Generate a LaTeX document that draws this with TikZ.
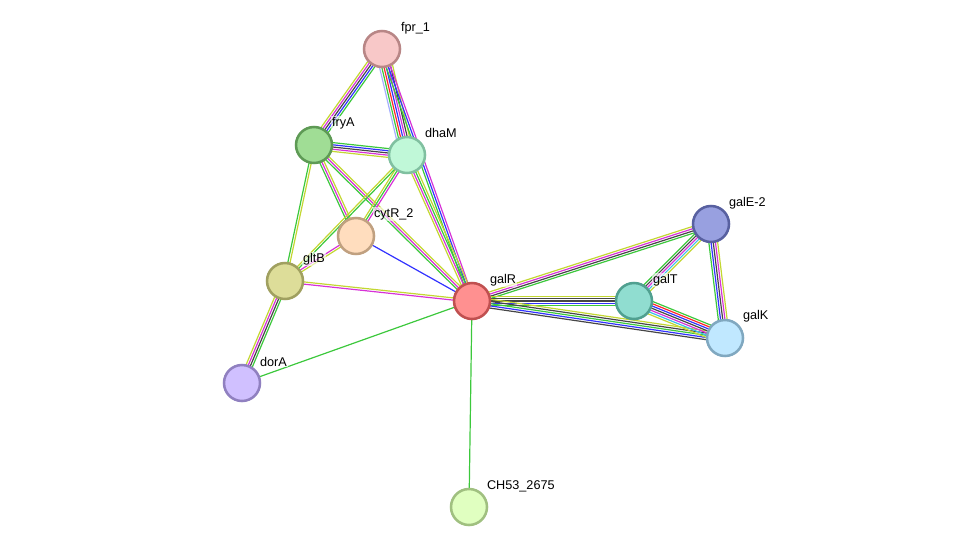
\documentclass[tikz,border=0pt]{standalone}
\usepackage{fontspec}
\setmainfont{Liberation Sans}
\usetikzlibrary{calc,backgrounds}
\definecolor{eg}{RGB}{60,200,60}
\definecolor{eb}{RGB}{50,50,255}
\definecolor{em}{RGB}{215,50,215}
\definecolor{ek}{RGB}{70,70,70}
\definecolor{ey}{RGB}{195,215,50}
\definecolor{ec}{RGB}{60,190,230}
\definecolor{er}{RGB}{255,40,40}
\definecolor{el}{RGB}{165,175,255}
\definecolor{fprF}{RGB}{248,200,200}\definecolor{fprD}{RGB}{184,134,134}
\definecolor{fryF}{RGB}{160,221,149}\definecolor{fryD}{RGB}{94,154,85}
\definecolor{dhaF}{RGB}{192,248,216}\definecolor{dhaD}{RGB}{128,192,160}
\definecolor{cytF}{RGB}{255,221,190}\definecolor{cytD}{RGB}{192,160,128}
\definecolor{gltF}{RGB}{221,221,153}\definecolor{gltD}{RGB}{160,160,96}
\definecolor{garF}{RGB}{255,144,144}\definecolor{garD}{RGB}{192,80,80}
\definecolor{gaeF}{RGB}{152,160,224}\definecolor{gaeD}{RGB}{88,96,160}
\definecolor{gatF}{RGB}{144,221,208}\definecolor{gatD}{RGB}{80,160,144}
\definecolor{gakF}{RGB}{192,232,255}\definecolor{gakD}{RGB}{128,168,192}
\definecolor{dorF}{RGB}{208,192,255}\definecolor{dorD}{RGB}{144,128,192}
\definecolor{chF}{RGB}{224,255,192}\definecolor{chD}{RGB}{160,192,128}
\tikzset{
  prot/.style n args={2}{circle,draw=#2,fill=#1,line width=1.9pt,minimum size=27pt,inner sep=0pt},
  lab/.style={anchor=west,font=\fontsize{9.5}{11}\selectfont,inner sep=0.6pt,fill=white,fill opacity=0.6,text opacity=1},
  ln/.style={line width=0.9pt}
}
\newcommand\sedge[4]{%
  \foreach \cc [count=\ii] in {#4}{%
    \pgfmathsetmacro\eoff{(\ii-(#3+1)/2)*1.65}%
    \draw[ln,\cc] ($(#1.center)!\eoff pt!90:(#2.center)$) -- ($(#2.center)!\eoff pt!-90:(#1.center)$);
  }}
\begin{document}
\begin{tikzpicture}[x=0.75pt,y=-0.75pt]
\useasboundingbox (0,0) rectangle (976,553);
\node[prot={fprF}{fprD}] (fpr) at (382,49) {};
\node[prot={fryF}{fryD}] (fryA) at (314,145) {};
\node[prot={dhaF}{dhaD}] (dhaM) at (407,155) {};
\node[prot={cytF}{cytD}] (cytR) at (356,236) {};
\node[prot={gltF}{gltD}] (gltB) at (285,281) {};
\node[prot={garF}{garD}] (galR) at (472,301) {};
\node[prot={gaeF}{gaeD}] (galE) at (711,224) {};
\node[prot={gatF}{gatD}] (galT) at (634,301) {};
\node[prot={gakF}{gakD}] (galK) at (725,338) {};
\node[prot={dorF}{dorD}] (dorA) at (242,383) {};
\node[prot={chF}{chD}] (ch53) at (469,507) {};
\node[lab] (lfpr) at ($(fpr)+(18,-21)$) {fpr\_1};
\node[lab] (lfryA) at ($(fryA)+(17,-22)$) {fryA};
\node[lab] (ldhaM) at ($(dhaM)+(17,-22)$) {dhaM};
\node[lab] (lcytR) at ($(cytR)+(17,-22)$) {cytR\_2};
\node[lab] (lgltB) at ($(gltB)+(17,-22)$) {gltB};
\node[lab] (lgalR) at ($(galR)+(17,-21)$) {galR};
\node[lab] (lgalE) at ($(galE)+(17,-21)$) {galE-2};
\node[lab] (lgalT) at ($(galT)+(18,-21)$) {galT};
\node[lab] (lgalK) at ($(galK)+(17,-22)$) {galK};
\node[lab] (ldorA) at ($(dorA)+(17,-21)$) {dorA};
\node[lab] (lch53) at ($(ch53)+(17,-21)$) {CH53\_2675};
\begin{scope}[on background layer]
\sedge{fpr}{fryA}{5}{ey,em,ek,eb,eg}
\sedge{fpr}{dhaM}{7}{el,eg,er,eb,em,ek,ey}
\sedge{fpr}{galR}{3}{eg,eb,em}
\sedge{fryA}{dhaM}{5}{ey,em,ek,eb,eg}
\sedge{fryA}{cytR}{3}{eg,em,ey}
\sedge{fryA}{galR}{3}{eg,em,ey}
\sedge{fryA}{gltB}{2}{eg,ey}
\sedge{dhaM}{cytR}{3}{ey,eg,em}
\sedge{dhaM}{gltB}{2}{ey,eg}
\sedge{dhaM}{galR}{4}{ey,em,eg,ey}
\sedge{cytR}{gltB}{2}{em,ey}
\sedge{cytR}{galR}{1}{eb}
\sedge{gltB}{galR}{2}{em,ey}
\sedge{gltB}{dorA}{4}{ey,em,ek,eg}
\sedge{dorA}{galR}{1}{eg}
\sedge{galR}{ch53}{1}{eg}
\sedge{galR}{galE}{4}{eg,ek,em,ey}
\sedge{galR}{galT}{5}{eg,eb,ek,ek,ey}
\sedge{galR}{galK}{5}{ek,eb,eg,ek,ey}
\sedge{galE}{galT}{5}{eg,ek,em,ec,ey}
\sedge{galE}{galK}{5}{eg,eb,ek,em,ey}
\sedge{galT}{galK}{7}{ey,ec,em,ek,eb,er,eg}
\end{scope}
\end{tikzpicture}
\end{document}
